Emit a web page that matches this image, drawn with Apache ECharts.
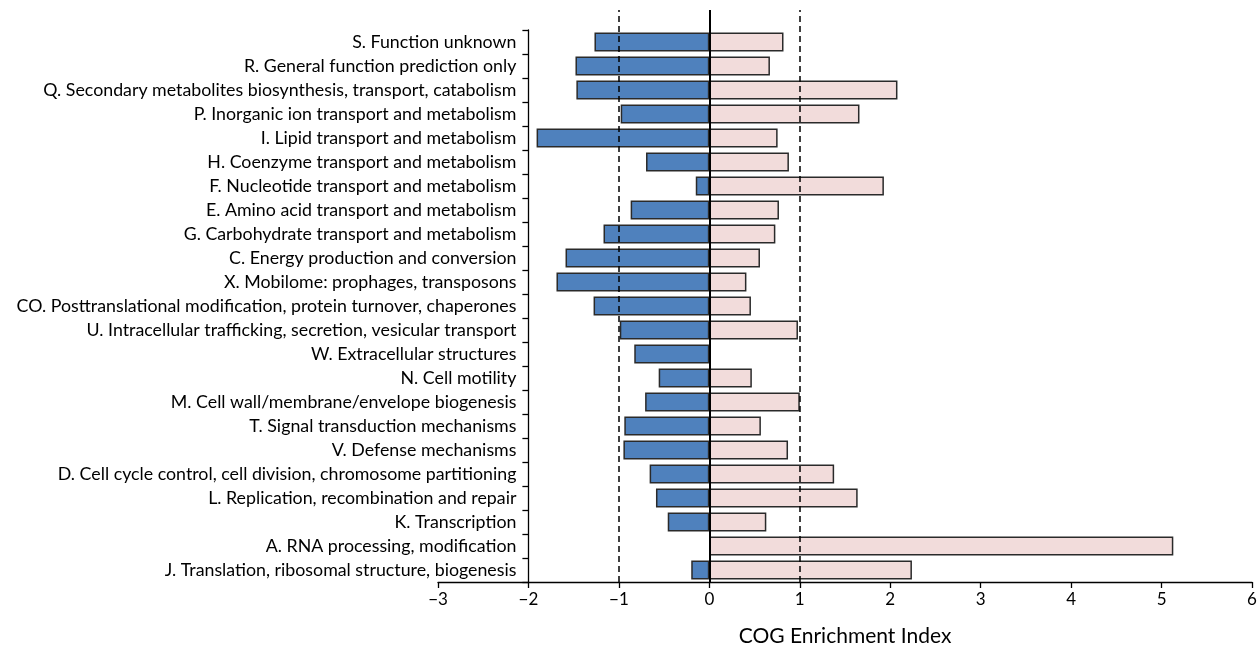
<!DOCTYPE html>
<html>
<head>
<meta charset="utf-8">
<script src="https://cdn.jsdelivr.net/npm/echarts@6/dist/echarts.min.js"></script>
<style>
html,body{margin:0;padding:0;background:#fff;}
#chart{width:1258px;height:648px;}
</style>
</head>
<body>
<div id="chart"></div>
<script>
const categories = [
  "S. Function unknown",
  "R. General function prediction only",
  "Q. Secondary metabolites biosynthesis, transport, catabolism",
  "P. Inorganic ion transport and metabolism",
  "I. Lipid transport and metabolism",
  "H. Coenzyme transport and metabolism",
  "F. Nucleotide transport and metabolism",
  "E. Amino acid transport and metabolism",
  "G. Carbohydrate transport and metabolism",
  "C. Energy production and conversion",
  "X. Mobilome: prophages, transposons",
  "CO. Posttranslational modification, protein turnover, chaperones",
  "U. Intracellular trafficking, secretion, vesicular transport",
  "W. Extracellular structures",
  "N. Cell motility",
  "M. Cell wall/membrane/envelope biogenesis",
  "T. Signal transduction mechanisms",
  "V. Defense mechanisms",
  "D. Cell cycle control, cell division, chromosome partitioning",
  "L. Replication, recombination and repair",
  "K. Transcription",
  "A. RNA processing, modification",
  "J. Translation, ribosomal structure, biogenesis"
];
const negativeValues = [-1.27, -1.48, -1.47, -0.98, -1.91, -0.70, -0.15, -0.87, -1.17, -1.59, -1.69, -1.28, -0.99, -0.83, -0.56, -0.71, -0.94, -0.95, -0.66, -0.59, -0.46, '-', -0.20];
const positiveValues = [0.82, 0.67, 2.08, 1.66, 0.755, 0.88, 1.93, 0.77, 0.73, 0.56, 0.41, 0.46, 0.98, '-', 0.47, 1.00, 0.57, 0.87, 1.38, 1.64, 0.63, 5.13, 2.24];
const xTicks = [-3, -2, -1, 0, 1, 2, 3, 4, 5, 6];
const referenceLines = [-1, 0, 1];

const FONT = 'Lato';
const chart = echarts.init(document.getElementById('chart'), null, {renderer: 'canvas'});
const option = {
  backgroundColor: '#fff',
  animation: false,
  grid: [
    {left: 438, right: 6, top: 30, bottom: 66, outerBoundsMode: 'none', containLabel: false},
    {left: 438, right: 6, top: 10, bottom: 66, outerBoundsMode: 'none', containLabel: false}
  ],
  xAxis: [
    {
      gridIndex: 0, type: 'value', min: xTicks[0], max: xTicks[xTicks.length-1], interval: 1,
      axisLine: {show: true, lineStyle: {color: '#000', width: 1.3}},
      axisTick: {show: true, inside: false, length: 6, lineStyle: {color: '#000', width: 1.3}},
      axisLabel: {color: '#000', fontFamily: FONT, fontSize: 17, margin: 9,
        formatter: v => String(v).replace('-', '\u2212')},
      splitLine: {show: false},
      name: 'COG Enrichment Index', nameLocation: 'middle', nameGap: 44,
      nameTextStyle: {color: '#000', fontFamily: FONT, fontSize: 21}
    },
    {gridIndex: 1, type: 'value', min: xTicks[0], max: xTicks[xTicks.length-1], show: false}
  ],
  yAxis: [
    {
      gridIndex: 0, type: 'category', data: categories, inverse: true,
      offset: -90.4,
      axisLine: {show: true, onZero: false, lineStyle: {color: '#000', width: 1.3}},
      axisTick: {show: true, length: 6, lineStyle: {color: '#000', width: 1.3}},
      axisLabel: {color: '#000', fontFamily: FONT, fontSize: 17.8, margin: 12},
      splitLine: {show: false}
    },
    {gridIndex: 1, type: 'value', min: 0, max: 1, show: false}
  ],
  series: [
    {
      type: 'bar', name: 'neg', xAxisIndex: 0, yAxisIndex: 0, data: negativeValues,
      barWidth: 19, barGap: '-100%',
      itemStyle: {color: '#4F81BD', borderColor: '#2a2a2a', borderWidth: 1.5}
    },
    {
      type: 'bar', name: 'pos', xAxisIndex: 0, yAxisIndex: 0, data: positiveValues,
      barWidth: 19, barGap: '-100%',
      itemStyle: {color: '#F2DCDB', borderColor: '#2a2a2a', borderWidth: 1.5}
    },
    {
      type: 'line', xAxisIndex: 1, yAxisIndex: 1, data: [], z: 10,
      markLine: {
        silent: true, symbol: 'none', label: {show: false},
        data: referenceLines.map(v => ({
          xAxis: v,
          lineStyle: v === 0 ? {color: '#000', width: 2, type: 'solid'} : {color: '#000', width: 1.5, type: [6, 4]}
        }))
      }
    }
  ]
};
chart.setOption(option);
</script>
</body>
</html>
